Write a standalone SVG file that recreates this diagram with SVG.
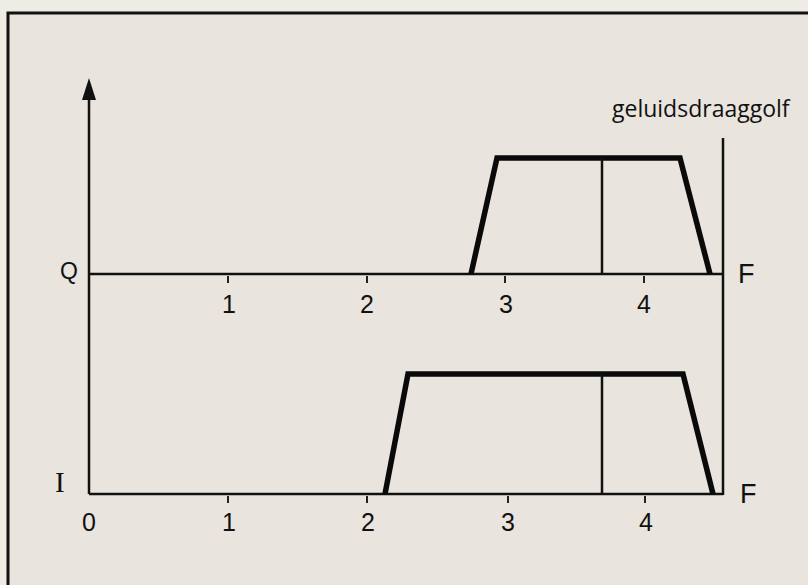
<svg xmlns="http://www.w3.org/2000/svg" width="808" height="585" viewBox="0 0 808 585">
<defs>
<style>
.ax{stroke:#111;stroke-width:2.5;fill:none}
.thin{stroke:#111;stroke-width:2.5;fill:none}
.tk{stroke:#222;stroke-width:2;fill:none}
.tr{stroke:#0a0a0a;stroke-width:5.5;fill:none;stroke-linejoin:miter}
.num{font-family:"Liberation Sans Narrow","Liberation Sans",Arial,sans-serif;font-size:25px;fill:#111;text-anchor:middle}
.lab{font-family:"Liberation Sans",Arial,sans-serif;font-size:27px;fill:#111}
.ttl{font-family:"Open Sans","Liberation Sans",sans-serif;font-size:23px;fill:#111}
</style>
</defs>
<rect x="0" y="0" width="808" height="585" fill="#efebe5"/>
<rect x="8" y="13" width="805" height="575" fill="#e9e4dd" stroke="#111" stroke-width="3"/>
<g id="connectors">
<line class="ax" x1="89" y1="494" x2="89" y2="100"/>
<path d="M82,100 L89,78 L96,100 Z" fill="#111"/>
<line class="ax" x1="89" y1="274" x2="723" y2="274"/>
<line class="ax" x1="89" y1="494" x2="723" y2="494"/>
<line class="ax" x1="723" y1="138" x2="723" y2="495"/>
</g>
<g id="ticks">
<line class="tk" x1="228" y1="276" x2="228" y2="283"/>
<line class="tk" x1="367" y1="276" x2="367" y2="283"/>
<line class="tk" x1="505" y1="276" x2="505" y2="283"/>
<line class="tk" x1="644" y1="276" x2="644" y2="283"/>
<line class="tk" x1="228" y1="496" x2="228" y2="503"/>
<line class="tk" x1="367" y1="496" x2="367" y2="503"/>
<line class="tk" x1="508" y1="496" x2="508" y2="503"/>
<line class="tk" x1="645" y1="496" x2="645" y2="503"/>
</g>
<g id="band-Q">
<polyline class="tr" points="471,274 497,158 680,158 710,274"/>
<line class="thin" x1="602" y1="158" x2="602" y2="274"/>
</g>
<g id="band-I">
<polyline class="tr" points="385,494 408,374 683,374 713,494"/>
<line class="thin" x1="602" y1="374" x2="602" y2="494"/>
</g>
<g id="labels">
<text x="60" y="279" font-family="Liberation Sans Narrow,Liberation Sans,sans-serif" font-size="23" fill="#111">Q</text>
<text x="55" y="492" font-family="Liberation Serif,serif" font-size="29" fill="#111">I</text>
<text class="lab" x="738" y="283">F</text>
<text class="lab" x="740" y="503">F</text>
<text class="ttl" x="612" y="117">geluidsdraaggolf</text>
<text class="num" x="229" y="313">1</text>
<text class="num" x="367" y="313">2</text>
<text class="num" x="506" y="313">3</text>
<text class="num" x="644" y="313">4</text>
<text class="num" x="89" y="531">0</text>
<text class="num" x="229" y="531">1</text>
<text class="num" x="368" y="531">2</text>
<text class="num" x="508" y="531">3</text>
<text class="num" x="646" y="531">4</text>
</g>
</svg>
